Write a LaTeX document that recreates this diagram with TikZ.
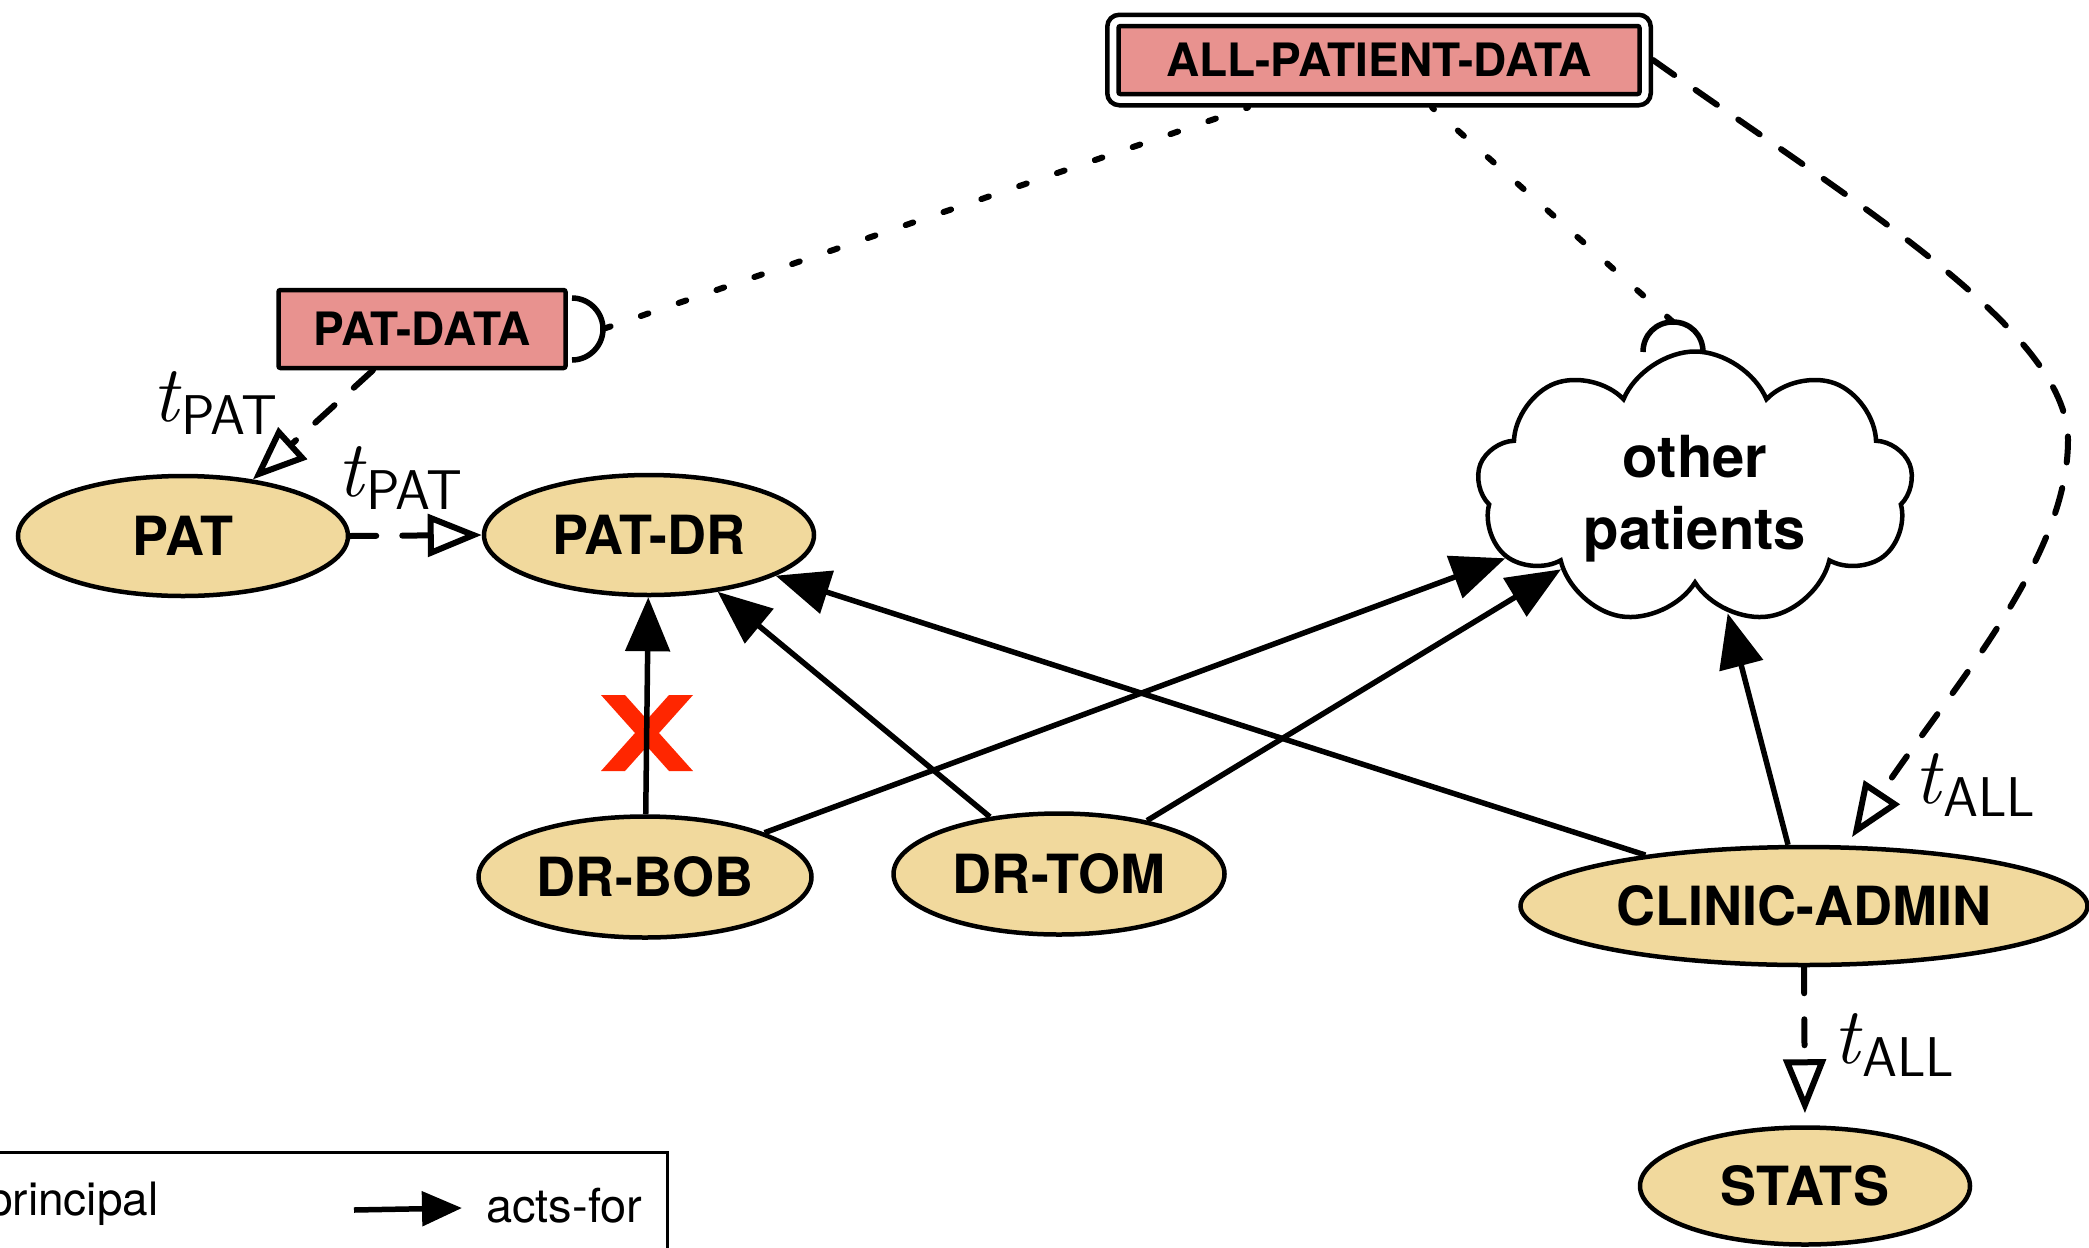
\documentclass[tikz,border=0pt]{standalone}
\usepackage{fontspec}
\newfontfamily\hv{TeX Gyre Heros}
\usetikzlibrary{shapes.geometric,shapes.symbols,arrows.meta,fit}
\definecolor{tanc}{HTML}{F1D99D}
\definecolor{pinkc}{HTML}{E8928F}
\definecolor{xred}{HTML}{FF2600}
\newcommand\tlab[1]{{\itshape t}\kern0.03em\raisebox{-0.16em}{\fontsize{56}{56}\selectfont\sffamily #1}}
\begin{document}
\begin{tikzpicture}[x=1pt,y=-1pt,
 prin/.style={ellipse, draw, line width=4.5pt, fill=tanc, inner sep=0pt, font=\hv\bfseries\fontsize{54}{60}\selectfont},
 databox/.style={rectangle, draw, line width=4.5pt, fill=pinkc, inner sep=0pt, rounded corners=2pt, font=\hv\bfseries\fontsize{46}{50}\selectfont},
 actsfor/.style={-{Triangle[length=54pt,width=44pt]}, line width=5.5pt},
 deleg/.style={dash pattern=on 26pt off 26pt, line cap=round, -{Triangle[open,length=54pt,width=42pt]}, line width=6pt},
 dotl/.style={line width=6pt, dash pattern=on 8pt off 32pt, line cap=round},
 lbl/.style={inner sep=0pt, font=\fontsize{80}{80}\selectfont},
 hook/.style={line width=5.5pt}
]
\path[fill=white, use as bounding box] (0,0) rectangle (2089,1248);
\clip (0,0) rectangle (2089,1248);

% data boxes
\node[databox, minimum width=287pt, minimum height=78pt] (patdata) at (422,329) {PAT-DATA};
\node[databox, minimum width=521pt, minimum height=68pt] (apd) at (1379,60) {ALL-PATIENT-DATA};
\node[draw, line width=4.5pt, rounded corners=12pt, inner sep=9pt, fit=(apd)] (apdout) {};

% hooks
\coordinate (pdhook) at (603,329);
\draw[hook] (572,298) .. controls (589,298) and (603,312) .. (603,329) .. controls (603,346) and (589,360) .. (572,360);
\coordinate (clhook) at (1673,322);
\draw[hook] (1643,352) .. controls (1643,335) and (1656,322) .. (1673,322) .. controls (1690,322) and (1703,335) .. (1703,352);

% dotted links
\draw[dotl] (pdhook) -- ([xshift=-131pt]apdout.south);
\draw[dotl] (clhook) -- ([xshift=53pt]apdout.south);

% principals
\node[prin, minimum width=330pt, minimum height=120pt] (pat) at (183,536) {PAT};
\node[prin, minimum width=330pt, minimum height=120pt] (patdr) at (649,535) {PAT-DR};
\node[prin, minimum width=333pt, minimum height=121pt] (bob) at (645,877) {DR-BOB};
\node[prin, minimum width=331pt, minimum height=121pt] (tom) at (1059,874) {DR-TOM};
\node[prin, minimum width=567pt, minimum height=118pt] (ca) at (1804,906) {CLINIC-ADMIN};
\node[prin, minimum width=330pt, minimum height=117pt] (stats) at (1805,1186) {STATS};
\node[cloud, cloud puffs=9, cloud puff arc=135, cloud ignores aspect, minimum width=436pt, minimum height=273pt, draw, line width=4.5pt, fill=white, inner sep=0pt, font=\hv\bfseries\fontsize{58}{72}\selectfont] (cloud) at (1695,488) {\raisebox{-11pt}[\height][\depth]{\begin{tabular}{@{}c@{}}other\\patients\end{tabular}}};

% red cross
\begin{scope}[shift={(647,733)}]
\fill[xred] (-46,-38) -- (-22,-38) -- (0,-13.4) -- (22,-38) -- (46,-38) -- (12,0) -- (46,38) -- (22,38) -- (0,13.4) -- (-22,38) -- (-46,38) -- (-12,0) -- cycle;
\end{scope}

% acts-for edges
\draw[actsfor] (bob) -- (patdr);
\draw[actsfor] (tom) -- (patdr);
\draw[actsfor] (ca) -- (patdr);
\draw[actsfor] (bob) -- (cloud);
\draw[actsfor] (tom) -- (cloud);
\draw[actsfor] (ca) -- (cloud);

% delegation edges
\draw[deleg] ([xshift=-49pt]patdata.south) -- (pat.39);
\draw[deleg] (pat.east) -- (patdr.west);
\draw[deleg, shorten >=10pt] (apdout.east) .. controls (1850,200) and (2068,330) .. (2068,440) .. controls (2068,560) and (1950,690) .. (ca.55);
\draw[deleg, shorten >=12pt] (ca.south) -- (stats.north);

% labels
\node[lbl] (l1) at (215,403) {\tlab{PAT}};
\node[lbl] (l2) at (400,478) {\tlab{PAT}};
\node[lbl] (l3) at (1975,785) {\tlab{ALL}};
\node[lbl] (l4) at (1894,1045) {\tlab{ALL}};

% legend
\draw[line width=3pt] (-20,1152) rectangle (667,1300);
\node[anchor=base west, inner sep=0pt, font=\hv\fontsize{46}{50}\selectfont] (legp) at (-13,1215) {principal};
\coordinate (la1) at (354,1210);
\coordinate (la2) at (462,1208);
\draw[line width=5.5pt, -{Triangle[length=40pt,width=34pt]}] (la1) -- (la2);
\node[anchor=base west, inner sep=0pt, font=\hv\fontsize{47}{50}\selectfont] (legaf) at (486,1222) {acts-for};
\end{tikzpicture}
\end{document}
